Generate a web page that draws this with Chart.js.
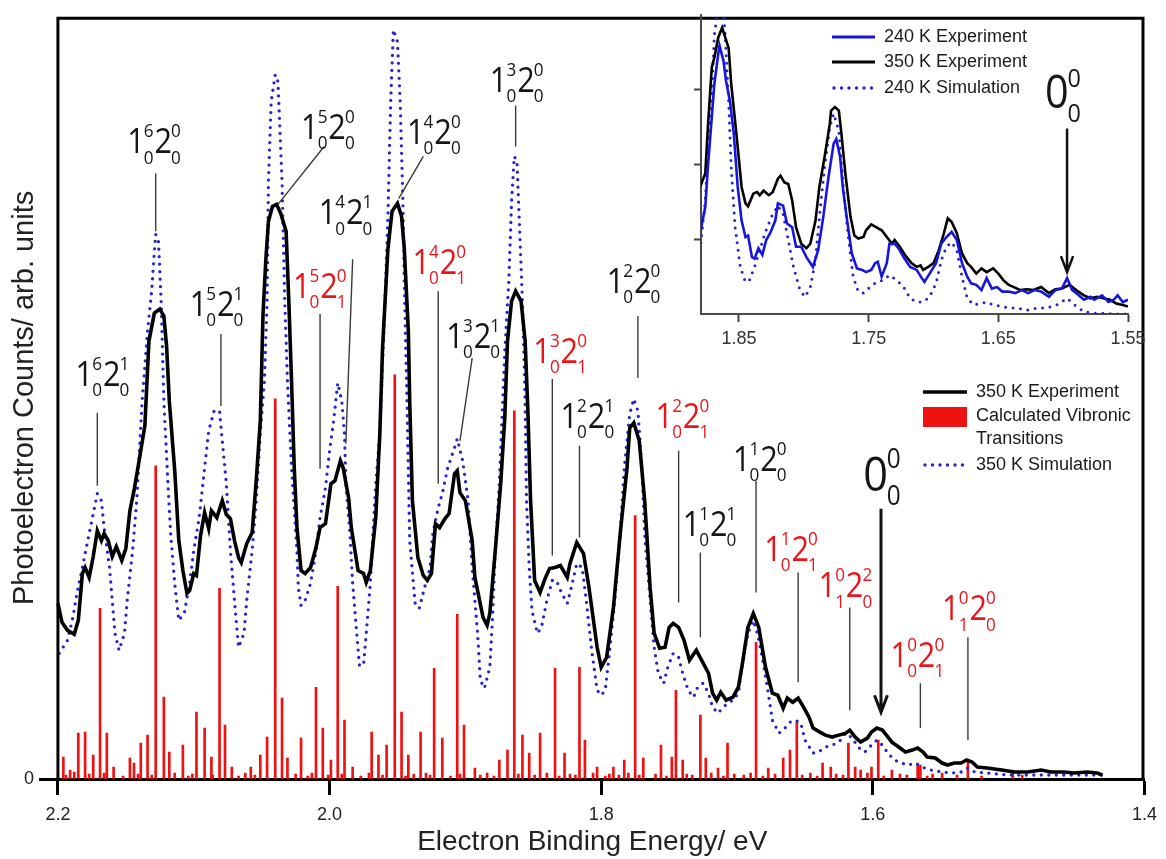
<!DOCTYPE html>
<html lang="en">
<head>
<meta charset="UTF-8" />
<title>Photoelectron spectrum - vibronic assignment</title>
<script src="https://cdn.jsdelivr.net/npm/chart.js"></script>
<style>
  body { margin: 0; background: #ffffff; }
  #wrap { position: relative; width: 1166px; height: 859px; }
  #main { position: absolute; left: 0; top: 0; }
  #inset { position: absolute; left: 640px; top: 0; }
</style>
</head>
<body>
<div id="wrap">
  <canvas id="main" width="1166" height="859"></canvas>
  <canvas id="inset" width="526" height="360"></canvas>
</div>

<script>
// ---- data: [binding energy (eV), counts (arb.)] ----
const xTicksMain = [2.2, 2.0, 1.8, 1.6, 1.4];
const xTicksInset = [1.85, 1.75, 1.65, 1.55];

// 350 K experiment (main panel)
const exp350 = [[2.200,176],[2.197,157],[2.193,149],[2.188,145],[2.185,159],[2.182,206],[2.180,212],[2.177,202],[2.174,223],[2.171,249],[2.168,239],[2.166,246],[2.163,239],[2.160,223],[2.157,233],[2.153,219],[2.150,231],[2.147,269],[2.144,289],[2.140,321],[2.136,354],[2.133,439],[2.129,467],[2.125,471],[2.122,464],[2.120,434],[2.118,379],[2.114,309],[2.111,239],[2.108,209],[2.105,186],[2.103,189],[2.100,206],[2.098,204],[2.095,244],[2.092,267],[2.089,251],[2.087,269],[2.083,262],[2.079,279],[2.076,265],[2.073,261],[2.070,239],[2.067,222],[2.065,217],[2.061,236],[2.057,247],[2.054,299],[2.051,359],[2.049,466],[2.047,519],[2.045,559],[2.042,574],[2.039,576],[2.036,567],[2.032,549],[2.030,479],[2.028,399],[2.026,312],[2.024,252],[2.021,209],[2.018,206],[2.014,212],[2.010,232],[2.007,252],[2.003,256],[1.999,296],[1.996,299],[1.992,319],[1.990,312],[1.986,282],[1.984,252],[1.979,209],[1.975,206],[1.973,197],[1.970,209],[1.966,262],[1.963,346],[1.961,432],[1.957,532],[1.954,569],[1.950,577],[1.947,564],[1.945,532],[1.942,449],[1.941,379],[1.939,279],[1.935,222],[1.931,204],[1.928,199],[1.925,206],[1.922,256],[1.919,252],[1.915,261],[1.912,266],[1.908,306],[1.906,309],[1.904,287],[1.900,279],[1.895,239],[1.893,202],[1.887,162],[1.884,154],[1.882,166],[1.878,229],[1.874,296],[1.871,362],[1.869,439],[1.866,479],[1.863,489],[1.859,479],[1.856,439],[1.854,369],[1.852,279],[1.849,199],[1.845,187],[1.841,202],[1.838,211],[1.834,212],[1.830,214],[1.825,202],[1.823,216],[1.818,237],[1.813,226],[1.809,192],[1.803,132],[1.800,112],[1.796,122],[1.791,172],[1.786,246],[1.781,312],[1.779,352],[1.776,357],[1.772,339],[1.768,279],[1.764,192],[1.761,146],[1.757,131],[1.753,132],[1.750,152],[1.747,156],[1.743,152],[1.739,139],[1.735,119],[1.730,129],[1.726,119],[1.721,106],[1.718,86],[1.715,79],[1.712,87],[1.708,79],[1.703,82],[1.699,92],[1.696,116],[1.692,152],[1.688,166],[1.684,152],[1.679,112],[1.674,86],[1.670,84],[1.666,71],[1.663,81],[1.659,77],[1.655,81],[1.651,72],[1.647,62],[1.644,51],[1.639,47],[1.635,44],[1.630,42],[1.625,44],[1.620,46],[1.617,49],[1.613,42],[1.609,37],[1.604,41],[1.601,47],[1.597,51],[1.593,49],[1.590,44],[1.586,37],[1.581,32],[1.576,27],[1.571,29],[1.567,31],[1.563,27],[1.560,22],[1.554,21],[1.549,16],[1.545,14],[1.540,16],[1.535,16],[1.531,19],[1.527,17],[1.523,12],[1.516,11],[1.505,9],[1.496,7],[1.486,7],[1.476,9],[1.469,7],[1.459,7],[1.452,6],[1.442,7],[1.435,6],[1.431,4]];

// 350 K simulation (main panel)
const sim350 = [[2.199,126],[2.193,139],[2.189,162],[2.186,186],[2.182,212],[2.177,246],[2.174,266],[2.171,286],[2.168,279],[2.166,252],[2.162,212],[2.158,146],[2.155,129],[2.151,146],[2.149,179],[2.145,229],[2.142,279],[2.140,329],[2.138,379],[2.134,449],[2.131,489],[2.129,529],[2.128,546],[2.126,539],[2.124,479],[2.122,379],[2.119,296],[2.117,246],[2.114,196],[2.111,159],[2.107,166],[2.103,196],[2.100,229],[2.096,262],[2.092,312],[2.089,349],[2.085,369],[2.081,369],[2.079,339],[2.076,296],[2.073,229],[2.069,162],[2.067,132],[2.063,146],[2.061,179],[2.057,229],[2.054,279],[2.051,346],[2.048,399],[2.046,479],[2.045,599],[2.043,679],[2.040,706],[2.038,699],[2.035,599],[2.033,479],[2.031,399],[2.028,312],[2.024,229],[2.023,192],[2.021,174],[2.018,179],[2.014,196],[2.010,229],[2.007,262],[2.003,292],[2.000,329],[1.997,359],[1.994,397],[1.991,379],[1.989,346],[1.988,296],[1.985,246],[1.983,196],[1.980,146],[1.978,114],[1.975,114],[1.973,146],[1.970,196],[1.968,246],[1.966,296],[1.963,346],[1.960,449],[1.957,566],[1.955,679],[1.953,751],[1.950,739],[1.948,679],[1.946,579],[1.945,499],[1.943,379],[1.941,239],[1.937,176],[1.934,171],[1.930,192],[1.926,212],[1.924,246],[1.920,272],[1.917,286],[1.913,312],[1.908,332],[1.906,341],[1.902,319],[1.898,279],[1.895,212],[1.891,146],[1.889,99],[1.886,91],[1.882,112],[1.880,162],[1.878,229],[1.875,296],[1.873,362],[1.871,429],[1.868,499],[1.866,579],[1.864,624],[1.862,619],[1.860,549],[1.858,479],[1.856,379],[1.855,279],[1.853,212],[1.851,169],[1.847,146],[1.844,152],[1.840,179],[1.836,199],[1.833,199],[1.829,186],[1.825,176],[1.822,192],[1.818,216],[1.814,212],[1.811,179],[1.807,129],[1.803,89],[1.800,84],[1.797,89],[1.794,126],[1.790,179],[1.786,246],[1.783,312],[1.779,366],[1.776,381],[1.773,369],[1.770,312],[1.768,246],[1.764,179],[1.761,132],[1.758,106],[1.754,96],[1.751,112],[1.747,126],[1.743,122],[1.740,106],[1.736,89],[1.732,82],[1.729,92],[1.725,96],[1.721,86],[1.718,72],[1.714,66],[1.710,72],[1.707,76],[1.703,79],[1.699,86],[1.696,116],[1.692,146],[1.688,159],[1.685,146],[1.681,119],[1.677,86],[1.674,59],[1.669,46],[1.664,52],[1.661,57],[1.657,59],[1.653,56],[1.650,39],[1.644,26],[1.640,27],[1.635,32],[1.630,34],[1.625,37],[1.620,46],[1.615,41],[1.611,32],[1.606,27],[1.601,34],[1.597,39],[1.593,34],[1.589,26],[1.584,19],[1.579,16],[1.574,14],[1.569,16],[1.564,12],[1.557,9],[1.549,7],[1.542,6],[1.535,7],[1.530,11],[1.525,7],[1.516,6],[1.501,4],[1.486,4],[1.472,4],[1.457,4],[1.442,4],[1.431,4]];

// calculated vibronic transitions (stick spectrum)
const sticks = [[2.169,171],[2.128,314],[2.081,191],[2.040,381],[1.994,193],[1.952,405],[1.906,165],[1.864,369],[1.816,112],[1.775,264],[1.727,64],[1.686,137],[1.656,57],[1.618,36],[1.596,39],
  [2.196,22],[2.191,9],[2.188,7],[2.185,46],[2.180,47],[2.174,24],[2.164,46],[2.159,12],[2.147,21],[2.144,16],[2.139,36],[2.134,44],[2.122,82],[2.118,27],[2.108,34],[2.098,67],[2.092,51],[2.087,22],[2.077,54],[2.072,12],[2.058,12],[2.051,24],[2.046,42],[2.035,81],[2.031,21],[2.021,41],[2.010,92],[2.005,51],[1.999,19],[1.989,59],[1.983,12],[1.969,47],[1.964,24],[1.958,34],[1.947,67],[1.942,24],[1.933,47],[1.923,111],[1.917,41],[1.901,54],[1.893,11],[1.875,19],[1.869,29],[1.858,44],[1.853,26],[1.845,46],[1.834,111],[1.827,26],[1.812,39],[1.803,12],[1.791,12],[1.783,19],[1.769,21],[1.756,34],[1.748,22],[1.745,89],[1.740,19],[1.723,21],[1.714,11],[1.707,36],[1.677,11],[1.666,21],[1.661,29],[1.637,16],[1.631,12],[1.613,12],[1.609,9],[1.601,12],[1.586,9],[1.567,16],[1.565,14],[1.549,6],[1.530,17],[1.497,9],
  [2.194,4],[2.177,5],[2.166,6],[2.152,3],[2.141,5],[2.131,4],[2.114,6],[2.104,3],[2.101,5],[2.086,4],[2.067,3],[2.062,6],[2.055,4],[2.025,5],[2.016,3],[2.013,6],[2.001,4],[1.991,5],[1.977,3],[1.971,6],[1.961,4],[1.944,3],[1.938,5],[1.929,6],[1.926,4],[1.911,3],[1.904,5],[1.889,4],[1.884,6],[1.879,3],[1.861,5],[1.849,4],[1.840,6],[1.831,3],[1.823,5],[1.819,4],[1.806,6],[1.797,3],[1.794,5],[1.787,4],[1.780,6],[1.772,4],[1.760,5],[1.752,3],[1.737,5],[1.733,4],[1.719,6],[1.710,3],[1.702,5],[1.695,4],[1.690,6],[1.681,3],[1.672,5],[1.652,4],[1.646,6],[1.641,3],[1.627,5],[1.622,4],[1.604,6],[1.592,3],[1.580,5],[1.575,4],[1.560,3],[1.556,5],[1.538,4],[1.520,3],[1.490,4]];

// inset: 240 K experiment, 350 K experiment, 240 K simulation
const insetExp240 = [[1.880,1.08],[1.876,1.43],[1.874,1.96],[1.871,2.63],[1.869,3.08],[1.866,3.48],[1.865,3.59],[1.862,3.39],[1.860,3.12],[1.857,2.85],[1.854,2.41],[1.851,1.70],[1.848,1.25],[1.845,1.03],[1.843,1.05],[1.840,0.76],[1.838,0.74],[1.835,0.88],[1.832,0.79],[1.829,0.99],[1.826,1.08],[1.822,1.25],[1.820,1.48],[1.816,1.45],[1.813,1.21],[1.809,1.16],[1.806,0.90],[1.802,0.90],[1.798,0.76],[1.793,0.63],[1.789,0.85],[1.785,1.30],[1.781,1.83],[1.777,2.28],[1.775,2.34],[1.772,2.10],[1.770,1.70],[1.767,1.30],[1.763,0.81],[1.759,0.61],[1.755,0.59],[1.752,0.56],[1.748,0.59],[1.745,0.68],[1.743,0.70],[1.740,0.50],[1.736,0.68],[1.734,0.94],[1.730,0.94],[1.727,0.88],[1.723,0.76],[1.718,0.63],[1.713,0.59],[1.709,0.48],[1.707,0.43],[1.703,0.54],[1.698,0.68],[1.694,0.94],[1.690,1.03],[1.686,1.10],[1.682,0.99],[1.678,0.68],[1.674,0.50],[1.671,0.41],[1.667,0.39],[1.663,0.32],[1.659,0.48],[1.655,0.34],[1.651,0.36],[1.647,0.30],[1.642,0.30],[1.637,0.28],[1.632,0.32],[1.627,0.28],[1.622,0.32],[1.617,0.30],[1.611,0.23],[1.606,0.32],[1.601,0.34],[1.597,0.48],[1.593,0.32],[1.590,0.28],[1.584,0.19],[1.579,0.23],[1.576,0.19],[1.570,0.25],[1.565,0.16],[1.561,0.19],[1.558,0.25],[1.554,0.16],[1.550,0.19]];

const insetExp350 = [[1.880,1.70],[1.876,1.88],[1.874,2.50],[1.871,3.30],[1.869,3.43],[1.866,3.70],[1.863,3.83],[1.861,3.72],[1.858,3.56],[1.856,3.08],[1.852,2.41],[1.848,1.70],[1.845,1.48],[1.843,1.44],[1.839,1.61],[1.836,1.63],[1.834,1.59],[1.831,1.65],[1.827,1.59],[1.824,1.63],[1.820,1.81],[1.818,1.85],[1.815,1.76],[1.812,1.74],[1.809,1.52],[1.806,1.16],[1.802,0.94],[1.798,0.88],[1.795,0.94],[1.791,1.25],[1.788,1.70],[1.784,2.10],[1.780,2.54],[1.779,2.72],[1.776,2.77],[1.773,2.72],[1.771,2.41],[1.768,1.88],[1.764,1.30],[1.761,1.05],[1.758,1.01],[1.754,1.03],[1.752,1.12],[1.748,1.20],[1.744,1.16],[1.740,1.12],[1.736,1.03],[1.732,0.94],[1.730,0.99],[1.726,0.90],[1.722,0.79],[1.717,0.68],[1.713,0.63],[1.710,0.65],[1.708,0.59],[1.704,0.63],[1.700,0.68],[1.696,0.85],[1.692,1.08],[1.689,1.28],[1.686,1.23],[1.682,1.08],[1.678,0.81],[1.674,0.68],[1.671,0.63],[1.667,0.54],[1.663,0.61],[1.659,0.56],[1.654,0.61],[1.650,0.54],[1.646,0.45],[1.642,0.39],[1.638,0.36],[1.633,0.32],[1.628,0.33],[1.623,0.32],[1.617,0.36],[1.611,0.28],[1.606,0.33],[1.601,0.34],[1.595,0.39],[1.590,0.32],[1.584,0.25],[1.579,0.21],[1.574,0.23],[1.569,0.21],[1.564,0.19],[1.559,0.14],[1.554,0.12],[1.550,0.10]];

const insetSim240 = [[1.880,0.85],[1.876,1.52],[1.874,2.19],[1.871,2.94],[1.869,3.74],[1.866,4.10],[1.863,4.14],[1.861,3.83],[1.858,2.85],[1.856,1.96],[1.853,1.16],[1.849,0.63],[1.845,0.43],[1.842,0.45],[1.838,0.63],[1.834,0.85],[1.830,1.08],[1.825,1.30],[1.820,1.45],[1.816,1.34],[1.812,0.99],[1.808,0.63],[1.803,0.32],[1.799,0.23],[1.795,0.36],[1.791,0.72],[1.788,1.30],[1.784,1.96],[1.780,2.50],[1.777,2.68],[1.773,2.45],[1.770,1.79],[1.766,1.08],[1.762,0.50],[1.758,0.30],[1.754,0.28],[1.749,0.36],[1.744,0.43],[1.739,0.45],[1.734,0.52],[1.728,0.45],[1.723,0.36],[1.718,0.21],[1.713,0.16],[1.708,0.16],[1.703,0.23],[1.698,0.41],[1.694,0.72],[1.690,0.90],[1.686,0.96],[1.682,0.85],[1.678,0.50],[1.674,0.21],[1.669,0.12],[1.664,0.14],[1.659,0.16],[1.654,0.12],[1.647,0.10],[1.641,0.08],[1.635,0.08],[1.628,0.05],[1.620,0.08],[1.613,0.08],[1.605,0.12],[1.597,0.21],[1.591,0.12],[1.584,0.03],[1.576,0.01],[1.569,0.01],[1.561,0.00],[1.550,0.00]];

// vibronic assignments: terms = [[base, superscript, subscript], ...]
const vibLabels = [
  { terms: [['1','6','0'],['2','1','0']], red: false, at: [2.187, 394], leader: [[2.171, 367], [2.171, 294]] },
  { terms: [['1','6','0'],['2','0','0']], red: false, at: [2.149, 627], leader: [[2.128, 607], [2.128, 549]] },
  { terms: [['1','5','0'],['2','1','0']], red: false, at: [2.103, 464], leader: [[2.080, 446], [2.080, 374]] },
  { terms: [['1','5','0'],['2','0','0']], red: false, at: [2.021, 642], leader: [[2.004, 634], [2.038, 576]] },
  { terms: [['1','4','0'],['2','1','0']], red: false, at: [2.008, 556], leader: [[1.983, 521], [1.988, 336]] },
  { terms: [['1','5','0'],['2','0','1']], red: true,  at: [2.027, 482], leader: [[2.007, 466], [2.007, 311]] },
  { terms: [['1','4','0'],['2','0','0']], red: false, at: [1.943, 637], leader: [[1.931, 624], [1.949, 582]] },
  { terms: [['1','4','0'],['2','0','1']], red: true,  at: [1.939, 506], leader: [[1.920, 489], [1.920, 296]] },
  { terms: [['1','3','0'],['2','1','0']], red: false, at: [1.914, 432], leader: [[1.895, 422], [1.904, 339]] },
  { terms: [['1','3','0'],['2','0','0']], red: false, at: [1.882, 689], leader: [[1.863, 675], [1.863, 634]] },
  { terms: [['1','3','0'],['2','0','1']], red: true,  at: [1.850, 417], leader: [[1.836, 401], [1.836, 224]] },
  { terms: [['1','2','0'],['2','0','0']], red: false, at: [1.796, 487], leader: [[1.773, 464], [1.773, 402]] },
  { terms: [['1','2','0'],['2','1','0']], red: false, at: [1.830, 352], leader: [[1.816, 334], [1.816, 242]] },
  { terms: [['1','2','0'],['2','0','1']], red: true,  at: [1.760, 352], leader: [[1.743, 329], [1.743, 177]] },
  { terms: [['1','1','0'],['2','0','0']], red: false, at: [1.703, 309], leader: [[1.686, 299], [1.686, 187]] },
  { terms: [['1','1','0'],['2','1','0']], red: false, at: [1.740, 244], leader: [[1.727, 227], [1.727, 142]] },
  { terms: [['1','1','0'],['2','0','1']], red: true,  at: [1.680, 219], leader: [[1.655, 207], [1.655, 97]] },
  { terms: [['1','0','1'],['2','2','0']], red: true,  at: [1.640, 182], leader: [[1.617, 172], [1.617, 69]] },
  { terms: [['1','0','0'],['2','0','1']], red: true,  at: [1.587, 112], leader: [[1.565, 96], [1.565, 51]] },
  { terms: [['1','0','1'],['2','0','0']], red: true,  at: [1.549, 159], leader: [[1.530, 142], [1.530, 39]] }
];
const originMain = { at: [1.607, 289], arrow: [[1.594, 271], [1.594, 67]] };
const originInset = { at: [1.614, 2.75], arrow: [[1.597, 2.48], [1.597, 0.56]] };

// ---- drawing helpers ----
const FONT = 'Arial, "Liberation Sans", sans-serif';
const LABEL_FONT = '"Open Sans", "Noto Sans", sans-serif';
const RED_TXT = '#e8161b';
const BLACK_TXT = '#151515';
const toXY = arr => arr.map(([x, y]) => ({ x, y }));

// stacked super/subscript label like 1^6_0 2^0_0, drawn with a slightly condensed face
function drawVib(ctx, x, y, terms, color, big) {
  const small = Math.round(big * 0.57);
  ctx.save();
  ctx.translate(x, y);
  ctx.scale(0.9, 1);
  ctx.fillStyle = color;
  ctx.textAlign = 'left';
  ctx.textBaseline = 'alphabetic';
  let cx = 0;
  terms.forEach(([b, sup, sub]) => {
    ctx.font = big + 'px ' + LABEL_FONT;
    ctx.fillText(b, cx, 0);
    cx += ctx.measureText(b).width * 0.95;
    ctx.font = small + 'px ' + LABEL_FONT;
    ctx.fillText(sup, cx, -big * 0.47);
    ctx.fillText(sub, cx, big * 0.3);
    cx += Math.max(ctx.measureText(sup).width, ctx.measureText(sub).width) + 1;
  });
  ctx.restore();
}

function drawArrow(ctx, x, y1, y2, w, head) {
  ctx.save();
  ctx.strokeStyle = '#111';
  ctx.lineWidth = w;
  ctx.beginPath();
  ctx.moveTo(x, y1);
  ctx.lineTo(x, y2);
  ctx.moveTo(x - head * 0.38, y2 - head);
  ctx.lineTo(x, y2);
  ctx.lineTo(x + head * 0.38, y2 - head);
  ctx.stroke();
  ctx.restore();
}

function dottedSample(ctx, x1, x2, y, color) {
  ctx.fillStyle = color;
  for (let x = x1; x <= x2; x += 7.5) {
    ctx.beginPath();
    ctx.arc(x, y, 1.7, 0, Math.PI * 2);
    ctx.fill();
  }
}

// tick-mark axis: ticks half a step either side of each labelled value, so the
// offset grid ticks land exactly on the labelled energies
const markTicks = [...xTicksMain.map(v => v + 0.1), xTicksMain[xTicksMain.length - 1] - 0.1];

// ---- main panel ----
const mainAnno = {
  id: 'mainAnno',
  afterDatasetsDraw(chart) {
    const { ctx, chartArea: a, scales: { x, y } } = chart;
    const xl = x.getPixelForValue(2.2), xr = a.right - 1.5, yt = a.top + 1.5;
    ctx.save();

    // left, top and right sides of the frame (the bottom axis is the tick axis border)
    ctx.strokeStyle = '#000';
    ctx.lineWidth = 3;
    ctx.beginPath();
    ctx.moveTo(xl, a.bottom); ctx.lineTo(xl, yt); ctx.lineTo(xr, yt); ctx.lineTo(xr, a.bottom);
    ctx.stroke();

    ctx.strokeStyle = '#3a3a3a';
    ctx.lineWidth = 1.4;
    vibLabels.forEach(l => {
      ctx.beginPath();
      ctx.moveTo(x.getPixelForValue(l.leader[0][0]), y.getPixelForValue(l.leader[0][1]));
      ctx.lineTo(x.getPixelForValue(l.leader[1][0]), y.getPixelForValue(l.leader[1][1]));
      ctx.stroke();
      drawVib(ctx, x.getPixelForValue(l.at[0]), y.getPixelForValue(l.at[1]), l.terms, l.red ? RED_TXT : BLACK_TXT, 34);
    });

    drawVib(ctx, x.getPixelForValue(originMain.at[0]), y.getPixelForValue(originMain.at[1]), [['0','0','0']], BLACK_TXT, 48);
    drawArrow(ctx, x.getPixelForValue(originMain.arrow[0][0]), y.getPixelForValue(originMain.arrow[0][1]),
              y.getPixelForValue(originMain.arrow[1][1]), 3, 17);

    // legend
    const lx1 = xr - 220, lx2 = xr - 176, tx = xr - 167;
    ctx.strokeStyle = '#000';
    ctx.lineWidth = 3.5;
    ctx.beginPath(); ctx.moveTo(lx1, 392); ctx.lineTo(lx2, 392); ctx.stroke();
    ctx.fillStyle = '#ee1111';
    ctx.fillRect(lx1, 407, lx2 - lx1, 20);
    dottedSample(ctx, lx1 + 2, lx2, 465, '#2626c8');
    ctx.fillStyle = '#1a1a1a';
    ctx.font = '18px ' + FONT;
    ctx.textBaseline = 'middle';
    ctx.fillText('350 K Experiment', tx, 392);
    ctx.fillText('Calculated Vibronic', tx, 416);
    ctx.fillText('Transitions', tx, 439);
    ctx.fillText('350 K Simulation', tx, 465);
    ctx.restore();
  }
};

new Chart(document.getElementById('main'), {
  type: 'line',
  data: {
    datasets: [
      { label: '350 K Experiment', data: toXY(exp350), borderColor: '#000000', borderWidth: 3.6,
        pointRadius: 0, tension: 0 },
      { label: '350 K Simulation', data: toXY(sim350), borderColor: '#2626c8', borderWidth: 3.3,
        borderDash: [0, 7.5], borderCapStyle: 'round', pointRadius: 0, tension: 0 },
      { type: 'bar', label: 'Calculated Vibronic Transitions', data: toXY(sticks),
        backgroundColor: '#f01010', barThickness: 2, grouped: false }
    ]
  },
  options: {
    responsive: false,
    animation: false,
    layout: { padding: { top: 14, right: 12, left: 0, bottom: 0 } },
    plugins: { legend: { display: false }, tooltip: { enabled: false } },
    scales: {
      xt: {
        type: 'linear', position: 'bottom', weight: 0, reverse: true, min: 1.4, max: 2.2132, offset: false,
        afterBuildTicks: s => { s.ticks = markTicks.map(v => ({ value: v })); },
        afterFit: s => { s.height = 16; },
        ticks: { display: false },
        grid: { offset: true, drawOnChartArea: false, drawTicks: true, tickLength: 16, tickWidth: 3, tickColor: '#000' },
        border: { display: true, color: '#000', width: 3 }
      },
      x: {
        type: 'linear', position: 'bottom', weight: 1, reverse: true, min: 1.4, max: 2.2132, offset: false,
        afterBuildTicks: s => { s.ticks = xTicksMain.map(v => ({ value: v })); },
        afterFit: s => { s.height = 64; },
        ticks: { color: '#222', font: { size: 18, family: FONT }, padding: 9,
                 callback: v => v.toFixed(1), maxRotation: 0 },
        grid: { display: false, drawOnChartArea: false, drawTicks: false },
        border: { display: false },
        title: { display: true, text: 'Electron Binding Energy/ eV', color: '#222',
                 font: { size: 28, family: FONT }, padding: { top: 0, bottom: 0 } }
      },
      y: {
        min: 0, max: 764, offset: false,
        afterBuildTicks: s => { s.ticks = [{ value: 0 }]; },
        afterFit: s => { s.width = 40; },
        ticks: { color: '#222', font: { size: 18, family: FONT }, padding: 6 },
        grid: { offset: false, drawOnChartArea: false, drawTicks: false },
        border: { display: false },
        title: { display: true, text: 'Photoelectron Counts/ arb. units', color: '#222',
                 font: { size: 29, family: FONT }, padding: { top: 8, bottom: 0 } }
      }
    }
  },
  plugins: [mainAnno]
});

// ---- inset panel ----
const insetAnno = {
  id: 'insetAnno',
  afterDatasetsDraw(chart) {
    const { ctx, scales: { x, y } } = chart;
    ctx.save();
    drawVib(ctx, x.getPixelForValue(originInset.at[0]), y.getPixelForValue(originInset.at[1]), [['0','0','0']], BLACK_TXT, 46);
    drawArrow(ctx, x.getPixelForValue(originInset.arrow[0][0]), y.getPixelForValue(originInset.arrow[0][1]),
              y.getPixelForValue(originInset.arrow[1][1]), 2.5, 16);

    const lx1 = 192, lx2 = 235, tx = 244;
    ctx.lineWidth = 3;
    ctx.strokeStyle = '#1515e0';
    ctx.beginPath(); ctx.moveTo(lx1, 37); ctx.lineTo(lx2, 37); ctx.stroke();
    ctx.strokeStyle = '#000';
    ctx.beginPath(); ctx.moveTo(lx1, 62); ctx.lineTo(lx2, 62); ctx.stroke();
    dottedSample(ctx, lx1 + 2, lx2, 88, '#2626c8');
    ctx.fillStyle = '#1a1a1a';
    ctx.font = '18px ' + FONT;
    ctx.textBaseline = 'middle';
    ctx.fillText('240 K Experiment', tx, 37);
    ctx.fillText('350 K Experiment', tx, 62);
    ctx.fillText('240 K Simulation', tx, 88);
    ctx.restore();
  }
};

new Chart(document.getElementById('inset'), {
  type: 'line',
  data: {
    datasets: [
      { label: '240 K Experiment', data: toXY(insetExp240), borderColor: '#1515e0', borderWidth: 2.6,
        pointRadius: 0, tension: 0 },
      { label: '350 K Experiment', data: toXY(insetExp350), borderColor: '#000000', borderWidth: 2.6,
        pointRadius: 0, tension: 0 },
      { label: '240 K Simulation', data: toXY(insetSim240), borderColor: '#2626c8', borderWidth: 3,
        borderDash: [0, 7.5], borderCapStyle: 'round', pointRadius: 0, tension: 0 }
    ]
  },
  options: {
    responsive: false,
    animation: false,
    layout: { padding: { top: 15, right: 38, left: 0, bottom: 0 } },
    plugins: { legend: { display: false }, tooltip: { enabled: false } },
    scales: {
      x: {
        type: 'linear', reverse: true, min: 1.55, max: 1.8793, offset: false,
        afterBuildTicks: s => { s.ticks = xTicksInset.map(v => ({ value: v })); },
        afterFit: s => { s.height = 46; },
        ticks: { color: '#333', font: { size: 18, family: FONT }, padding: 6,
                 callback: v => v.toFixed(2), maxRotation: 0 },
        grid: { offset: false, drawOnChartArea: false, drawTicks: true, tickLength: 8, tickWidth: 2, tickColor: '#444' },
        border: { display: true, color: '#4a4a4a', width: 2 }
      },
      y: {
        min: 0, max: 4,
        afterBuildTicks: s => { s.ticks = [1, 2, 3].map(v => ({ value: v })); },
        afterFit: s => { s.width = 61; },
        ticks: { callback: () => '' },
        grid: { offset: false, drawOnChartArea: false, drawTicks: true, tickLength: 7, tickWidth: 2, tickColor: '#444' },
        border: { display: true, color: '#4a4a4a', width: 2 }
      }
    }
  },
  plugins: [insetAnno]
});
</script>
</body>
</html>
